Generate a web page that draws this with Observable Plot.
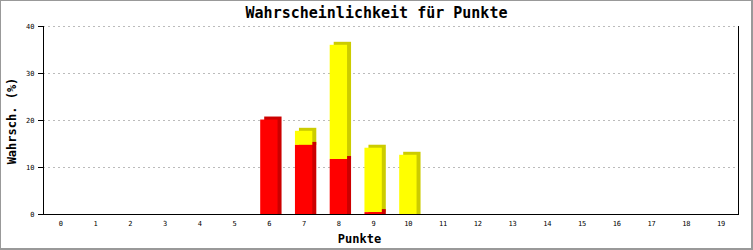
<!DOCTYPE html>
<html><head><meta charset="utf-8">
<script src="https://cdn.jsdelivr.net/npm/d3@7"></script>
<script src="https://cdn.jsdelivr.net/npm/@observablehq/plot@0.6"></script>
<style>
body{margin:0;background:#fff}
#chart{position:relative;width:753px;height:250px;overflow:hidden;background:#fff}
#chart svg{position:absolute;left:0;top:0}
.t{position:absolute;font-family:"DejaVu Sans Mono",monospace;font-weight:bold;color:#000;white-space:nowrap}
#border{position:absolute;left:0;top:0;right:0;bottom:0;border:1px solid #999;border-right-width:2px;border-bottom-width:2px;pointer-events:none}
</style></head><body>
<div id="chart"></div>
<script>
const title = "Wahrscheinlichkeit für Punkte";
const xLabel = "Punkte";
const yLabel = "Wahrsch. (%)";
const punkte = [0,1,2,3,4,5,6,7,8,9,10,11,12,13,14,15,16,17,18,19];
const rot  = [0,0,0,0,0,0,20.1,14.7,11.7,0.4,0,0,0,0,0,0,0,0,0,0];
const gelb = [0,0,0,0,0,0,0,3.0,24.3,13.7,12.6,0,0,0,0,0,0,0,0,0];
const yTicks = [0,10,20,30,40];
const serien = ["rot","gelb"];
const farben = {rot:["#ff0000","#cc0000"], gelb:["#ffff00","#cccc00"]};

// yellow rows first so their side faces are painted under the red ones
const rows = [];
punkte.forEach((p,i) => { if (gelb[i] > 0) rows.push({p, s:"gelb", v:gelb[i]}); });
punkte.forEach((p,i) => { if (rot[i] > 0) rows.push({p, s:"rot", v:rot[i]}); });

const plot = Plot.plot({
  width:753, height:250,
  marginLeft:43, marginRight:15, marginTop:26, marginBottom:36,
  style:{fontFamily:"DejaVu Sans Mono", fontSize:"7px", background:"transparent", color:"#000"},
  x:{type:"band", domain:punkte, padding:0, round:false, tickSize:0, tickPadding:7, label:null},
  y:{domain:[0,40], ticks:yTicks, tickSize:5, tickPadding:4, label:null},
  color:{type:"identity"},
  marks:[
    Plot.ruleY(yTicks.filter(t => t > 0), {stroke:"#bbb", strokeDasharray:"2,3"}),
    Plot.barY(rows, {x:"p", y:"v", z:"s", order:serien, fill:d => farben[d.s][1], dx:4, dy:-3, insetLeft:8.7, insetRight:8.7, insetBottom:-3}),
    Plot.barY(rows, {x:"p", y:"v", z:"s", order:serien, fill:d => farben[d.s][0], insetLeft:8.7, insetRight:8.7}),
    Plot.ruleY([0], {stroke:"#000"}),
    Plot.frame({anchor:"left", stroke:"#000"}),
    Plot.frame({anchor:"right", stroke:"#000"})
  ]
});
const chart = document.getElementById("chart");
chart.appendChild(plot);

function addText(txt, css){ const d = document.createElement("div"); d.className = "t"; d.textContent = txt; Object.assign(d.style, css); chart.appendChild(d); return d; }
addText(title, {left:"376.5px", top:"6px", fontSize:"15px", lineHeight:"15px", transform:"translateX(-50%)"});
addText(xLabel, {left:"359.5px", top:"233px", fontSize:"12px", lineHeight:"12px", transform:"translateX(-50%)"});
addText(yLabel, {left:"12px", top:"121px", fontSize:"12px", lineHeight:"12px", transform:"translate(-50%,-50%) rotate(-90deg)"});
const b = document.createElement("div"); b.id = "border"; chart.appendChild(b);
</script>
</body></html>
